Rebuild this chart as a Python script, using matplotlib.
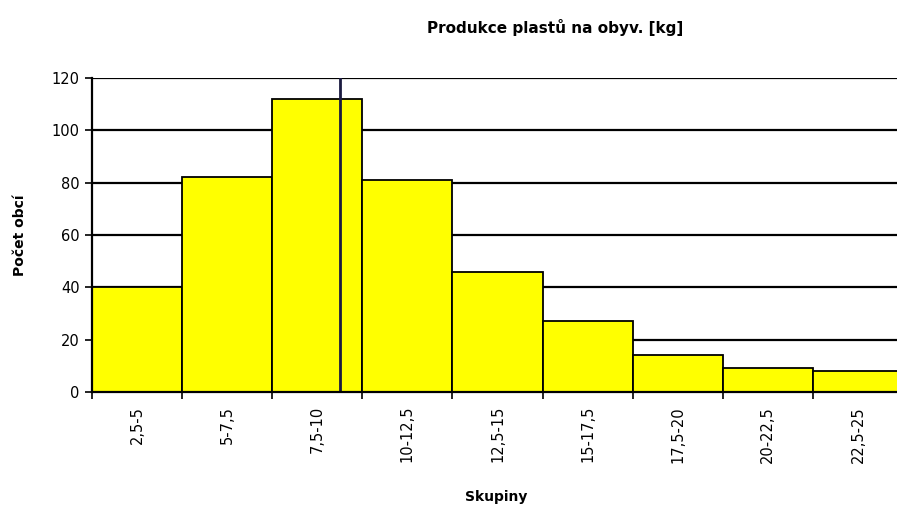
import matplotlib
matplotlib.use("Agg")
import matplotlib.pyplot as plt
import numpy as np

categories = ["2,5-5", "5-7,5", "7,5-10", "10-12,5", "12,5-15", "15-17,5", "17,5-20", "20-22,5", "22,5-25"]
bin_edges = [2.5, 5, 7.5, 10, 12.5, 15, 17.5, 20, 22.5, 25]
counts = [40, 82, 112, 81, 46, 27, 14, 9, 8]
marker_value = 9.38
y_ticks = [0, 20, 40, 60, 80, 100, 120]

W, H = 897, 509
fig = plt.figure(figsize=(W / 100, H / 100), dpi=100)
fig.patch.set_facecolor("white")
left, right, top, bottom = 92, 903, 78, 392
ax = fig.add_axes([left / W, (H - bottom) / H, (right - left) / W, (bottom - top) / H])

lefts = np.array(bin_edges[:-1])
widths = np.diff(bin_edges)
ax.bar(lefts, counts, width=widths, align="edge", color="#FFFF00",
       edgecolor="black", linewidth=1.3, zorder=3)

ax.set_xlim(bin_edges[0], bin_edges[-1])
ax.set_ylim(0, 120)
ax.set_yticks(y_ticks)
ax.yaxis.grid(True, color="black", linewidth=1.6, zorder=0)
ax.set_axisbelow(True)

ax.axvline(marker_value, color="#1a1a40", linewidth=2, zorder=4)

for s in ["top", "right"]:
    ax.spines[s].set_visible(False)
for s in ["left", "bottom"]:
    ax.spines[s].set_linewidth(1.6)
    ax.spines[s].set_zorder(5)

ax.set_xticks(bin_edges)
ax.set_xticklabels([])
centers = lefts + widths / 2
ax.set_xticks(centers, minor=True)
ax.set_xticklabels(categories, minor=True, rotation=90, fontsize=10.5)
ax.tick_params(axis="x", which="minor", length=0, pad=10)
ax.tick_params(axis="x", which="major", length=5, width=1.2)
ax.tick_params(axis="y", length=5, width=1.2, labelsize=10.5, pad=4)

ax.set_ylabel("Počet obcí", fontsize=10, fontweight="bold", labelpad=18)
fig.text(496 / W, 1 - 497 / H, "Skupiny", ha="center", va="center",
         fontsize=10, fontweight="bold")
fig.text(555 / W, 1 - 28 / H, "Produkce plastů na obyv. [kg]", ha="center",
         va="center", fontsize=11, fontweight="bold")

fig.savefig("out.png", dpi=100)
